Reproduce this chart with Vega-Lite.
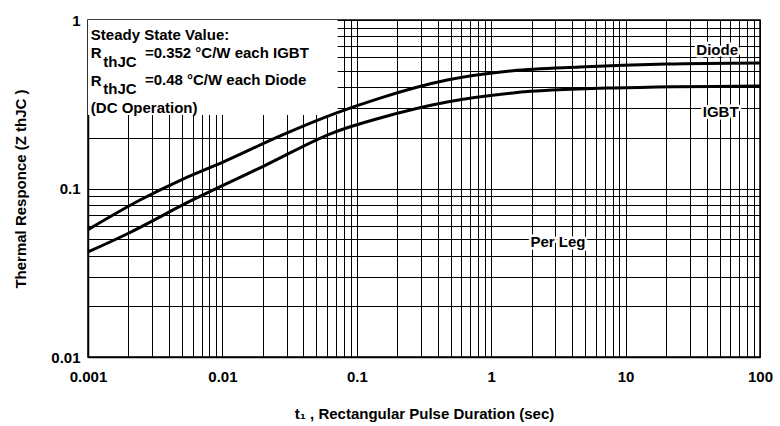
{
  "$schema": "https://vega.github.io/schema/vega-lite/v6.json",
  "width": 672,
  "height": 337,
  "autosize": {"type": "none"},
  "padding": {"left": 88, "top": 20, "right": 20, "bottom": 69},
  "background": "white",
  "config": {
    "view": {"stroke": "black", "strokeWidth": 1.5},
    "font": "Liberation Sans",
    "axis": {
      "grid": true, "gridColor": "black", "gridOpacity": 1, "gridWidth": 1,
      "ticks": false, "domainColor": "black", "domainWidth": 1.5,
      "labelColor": "black", "labelFont": "Liberation Sans", "labelFontSize": 15, "labelFontWeight": "bold",
      "titleColor": "black", "titleFont": "Liberation Sans", "titleFontSize": 15, "titleFontWeight": "bold"
    }
  },
  "datasets": {
    "curves": [
      {"t": 0.001, "z": 0.057, "s": "Diode"},
      {"t": 0.00244, "z": 0.0855, "s": "Diode"},
      {"t": 0.005, "z": 0.113, "s": "Diode"},
      {"t": 0.01, "z": 0.143, "s": "Diode"},
      {"t": 0.028, "z": 0.208, "s": "Diode"},
      {"t": 0.07, "z": 0.28, "s": "Diode"},
      {"t": 0.149, "z": 0.344, "s": "Diode"},
      {"t": 0.47, "z": 0.44, "s": "Diode"},
      {"t": 1.45, "z": 0.5, "s": "Diode"},
      {"t": 4.57, "z": 0.526, "s": "Diode"},
      {"t": 20, "z": 0.548, "s": "Diode"},
      {"t": 100, "z": 0.556, "s": "Diode"},
      {"t": 0.001, "z": 0.042, "s": "IGBT"},
      {"t": 0.00195, "z": 0.0537, "s": "IGBT"},
      {"t": 0.006, "z": 0.0855, "s": "IGBT"},
      {"t": 0.01, "z": 0.104, "s": "IGBT"},
      {"t": 0.02, "z": 0.135, "s": "IGBT"},
      {"t": 0.0665, "z": 0.214, "s": "IGBT"},
      {"t": 0.149, "z": 0.262, "s": "IGBT"},
      {"t": 0.47, "z": 0.326, "s": "IGBT"},
      {"t": 1.45, "z": 0.369, "s": "IGBT"},
      {"t": 8, "z": 0.395, "s": "IGBT"},
      {"t": 100, "z": 0.406, "s": "IGBT"}
    ],
    "box": [{"x1": 0.001, "x2": 0.072, "y1": 0.273, "y2": 1}],
    "notes": [
      {"x": 0.00105, "y": 0.815, "label": "Steady State Value:"},
      {"x": 0.00105, "y": 0.64, "label": "R"},
      {"x": 0.00265, "y": 0.64, "label": "=0.352 °C/W each IGBT"},
      {"x": 0.00105, "y": 0.435, "label": "R"},
      {"x": 0.00265, "y": 0.44, "label": "=0.48 °C/W each Diode"},
      {"x": 0.00105, "y": 0.3, "label": "(DC Operation)"}
    ],
    "subs": [
      {"x": 0.0013, "y": 0.565, "label": "thJC"},
      {"x": 0.0013, "y": 0.39, "label": "thJC"}
    ],
    "tags": [
      {"x": 48, "y": 0.663, "label": "Diode"},
      {"x": 51, "y": 0.284, "label": "IGBT"},
      {"x": 3.14, "y": 0.048, "label": "Per Leg"}
    ]
  },
  "encoding": {
    "x": {"type": "quantitative"},
    "y": {"type": "quantitative"}
  },
  "layer": [
    {
      "data": {"name": "box"},
      "mark": {"type": "rect", "fill": "white", "stroke": null},
      "encoding": {
        "x": {"field": "x1", "type": "quantitative",
          "scale": {"type": "log", "domain": [0.001, 100], "nice": false},
          "axis": {
            "title": "t₁ , Rectangular Pulse Duration (sec)",
            "values": [0.001,0.002,0.003,0.004,0.005,0.006,0.007,0.008,0.009,0.01,0.02,0.03,0.04,0.05,0.06,0.07,0.08,0.09,0.1,0.2,0.3,0.4,0.5,0.6,0.7,0.8,0.9,1,2,3,4,5,6,7,8,9,10,20,30,40,50,60,70,80,90,100],
            "format": "~g",
            "labelExpr": "abs(log(datum.value)/LN10 - round(log(datum.value)/LN10)) < 0.000001 ? datum.label : ''",
            "labelPadding": 12, "titlePadding": 22, "labelFlush": false, "labelOverlap": false
          }},
        "x2": {"field": "x2"},
        "y": {"field": "y1", "type": "quantitative",
          "scale": {"type": "log", "domain": [0.01, 1], "nice": false},
          "axis": {
            "title": "Thermal Responce (Z  thJC )",
            "values": [0.01,0.02,0.03,0.04,0.05,0.06,0.07,0.08,0.09,0.1,0.2,0.3,0.4,0.5,0.6,0.7,0.8,0.9,1],
            "format": "~g",
            "labelExpr": "abs(log(datum.value)/LN10 - round(log(datum.value)/LN10)) < 0.000001 ? datum.label : ''",
            "labelPadding": 8, "titlePadding": 22, "labelFlush": false, "labelOverlap": false
          }},
        "y2": {"field": "y2"}
      }
    },
    {
      "data": {"name": "curves"},
      "mark": {"type": "line", "color": "black", "strokeWidth": 3, "interpolate": "monotone"},
      "encoding": {
        "x": {"field": "t", "type": "quantitative"},
        "y": {"field": "z", "type": "quantitative"},
        "detail": {"field": "s"}
      }
    },
    {
      "data": {"name": "notes"},
      "mark": {"type": "text", "align": "left", "baseline": "middle", "fontSize": 15, "fontWeight": "bold", "font": "Liberation Sans", "color": "black"},
      "encoding": {
        "x": {"field": "x", "type": "quantitative"},
        "y": {"field": "y", "type": "quantitative"},
        "text": {"field": "label"}
      }
    },
    {
      "data": {"name": "subs"},
      "mark": {"type": "text", "align": "left", "baseline": "middle", "fontSize": 15, "fontWeight": "bold", "font": "Liberation Sans", "color": "black"},
      "encoding": {
        "x": {"field": "x", "type": "quantitative"},
        "y": {"field": "y", "type": "quantitative"},
        "text": {"field": "label"}
      }
    },
    {
      "data": {"name": "tags"},
      "mark": {"type": "text", "align": "center", "baseline": "middle", "fontSize": 15, "fontWeight": "bold", "font": "Liberation Sans", "color": "white", "stroke": "white", "strokeWidth": 5, "strokeJoin": "round"},
      "encoding": {
        "x": {"field": "x", "type": "quantitative"},
        "y": {"field": "y", "type": "quantitative"},
        "text": {"field": "label"}
      }
    },
    {
      "data": {"name": "tags"},
      "mark": {"type": "text", "align": "center", "baseline": "middle", "fontSize": 15, "fontWeight": "bold", "font": "Liberation Sans", "color": "black"},
      "encoding": {
        "x": {"field": "x", "type": "quantitative"},
        "y": {"field": "y", "type": "quantitative"},
        "text": {"field": "label"}
      }
    }
  ]
}
